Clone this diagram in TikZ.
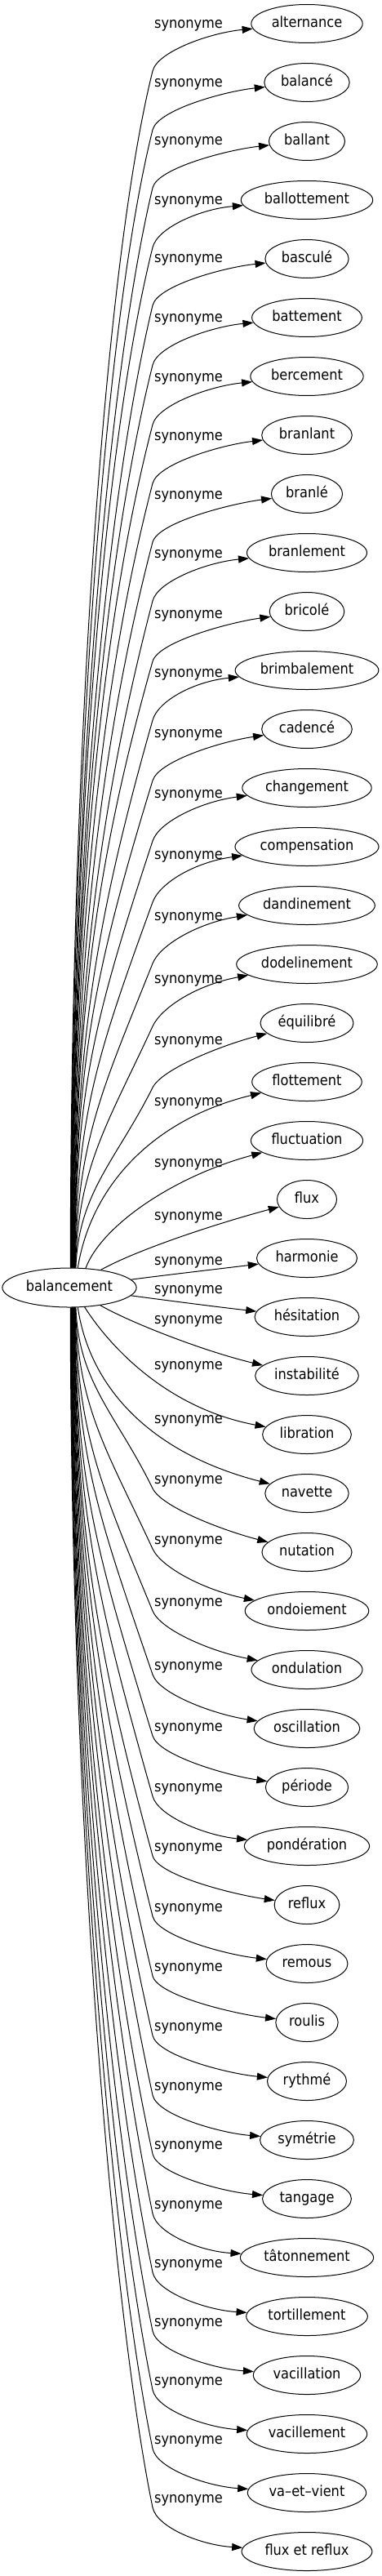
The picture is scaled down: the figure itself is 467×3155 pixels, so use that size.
\documentclass[tikz,border=0pt]{standalone}
\usepackage{fontspec}
\setmainfont{DejaVu Sans}[FakeStretch=0.9]
\usetikzlibrary{arrows.meta,shapes.geometric,calc}
\begin{document}
\begin{tikzpicture}[x=1pt,y=-1pt,
  word/.style={ellipse,draw,line width=1pt,minimum height=47pt,minimum width=73pt,
    inner xsep=5pt,inner ysep=0pt,text height=13pt,text depth=4pt,
    font=\fontsize{18}{20}\selectfont},
  lab/.style={inner sep=0pt,text height=13pt,text depth=4pt,font=\fontsize{18}{20}\selectfont},
  link/.style={line width=1pt,-{Triangle[length=13pt,width=9pt]}}]
\useasboundingbox (0,0) rectangle (467,3155);
% source node
\node[word,minimum width=160pt,minimum height=48pt] (bal) at (85,1577) {balancement};
% target nodes
\foreach \k/\w in {0/alternance,1/balancé,2/ballant,3/ballottement,4/basculé,5/battement,
  6/bercement,7/branlant,8/branlé,9/branlement,10/bricolé,11/brimbalement,12/cadencé,
  13/changement,14/compensation,15/dandinement,16/dodelinement,17/équilibré,18/flottement,
  19/fluctuation,20/flux,21/harmonie,22/hésitation,23/instabilité,24/libration,25/navette,
  26/nutation,27/ondoiement,28/ondulation,29/oscillation,30/période,31/pondération,
  32/reflux,33/remous,34/roulis,35/rythmé,36/symétrie,37/tangage,38/tâtonnement,
  39/tortillement,40/vacillation,41/vacillement,42/va–et–vient,43/flux et reflux}{
  \node[word] (n\k) at (376,{29+72*\k}) {\w};
}
% edge labels
\foreach \k/\ly in {0/30,1/102,2/173,3/246,4/317,5/390,6/463,7/535,8/607,9/679,10/753,
  11/825,12/899,13/973,14/1048,15/1123,16/1200,17/1275,18/1350,19/1425,20/1490,21/1545,
  22/1580,23/1617,24/1673,25/1739,26/1813,27/1887,28/1963,29/2041,30/2116,31/2190,
  32/2263,33/2337,34/2410,35/2483,36/2556,37/2628,38/2701,39/2773,40/2845,41/2917,
  42/2989,43/3061}{
  \node[lab] (l\k) at (231,\ly) {synonyme};
}
% upper far edges
\foreach \i/\ly in {0/30,1/102,2/173,3/246,4/317,5/390,6/463,7/535,8/607,9/679,10/753,
  11/825,12/899,13/973,14/1048,15/1123,16/1200,17/1275}{
  \pgfmathsetmacro\eyn{29+72*\i}
  \pgfmathsetmacro\eyw{\ly+57}
  \pgfmathsetmacro\edw{\eyw-\eyn}
  \pgfmathsetmacro\eth{14+0.6*(\edw-58)}
  \pgfmathsetmacro\esp{1553-\eyw}
  \pgfmathsetmacro\ecc{min(250,0.45*\esp)}
  \pgfmathsetmacro\edx{1+0.38*\i}
  \pgfmathtruncatemacro\eal{atan2(24*sqrt(1-(\edx/80)^2),\edx)}
  \pgfmathsetmacro\eqx{85+1.5*\edx}
  \pgfmathsetmacro\eqy{1553-0.42*\esp}
  \pgfmathsetmacro\eax{187-\ecc*sin(\eth)}
  \pgfmathsetmacro\eay{\eyw+\ecc*cos(\eth)}
  \pgfmathsetmacro\ebx{187+25*sin(\eth)}
  \pgfmathsetmacro\eby{\eyw-25*cos(\eth)}
  \pgfmathsetmacro\ero{11+0.8*(\edw-58)}
  \draw[link] (bal.\eal) .. controls (\eqx,\eqy) and (\eax,\eay) .. (187,\eyw)
     .. controls (\ebx,\eby) and ($(n\i.west)+(-49,\ero)$) .. (n\i);
}
% lower far edges
\foreach \k/\ly in {26/1813,27/1887,28/1963,29/2041,30/2116,31/2190,32/2263,33/2337,
  34/2410,35/2483,36/2556,37/2628,38/2701,39/2773,40/2845,41/2917,42/2989,43/3061}{
  \pgfmathsetmacro\eyn{29+72*\k}
  \pgfmathsetmacro\eyw{\ly+10}
  \pgfmathsetmacro\edw{\eyn-\eyw}
  \pgfmathsetmacro\eth{14+0.6*(\edw-58)}
  \pgfmathsetmacro\esp{\eyw-1601}
  \pgfmathsetmacro\ecc{min(250,0.45*\esp)}
  \pgfmathsetmacro\edx{1+0.38*(43-\k)}
  \pgfmathtruncatemacro\eal{-atan2(24*sqrt(1-(\edx/80)^2),\edx)}
  \pgfmathsetmacro\eqx{85+1.5*\edx}
  \pgfmathsetmacro\eqy{1601+0.42*\esp}
  \pgfmathsetmacro\eax{187-\ecc*sin(\eth)}
  \pgfmathsetmacro\eay{\eyw-\ecc*cos(\eth)}
  \pgfmathsetmacro\ebx{187+25*sin(\eth)}
  \pgfmathsetmacro\eby{\eyw+25*cos(\eth)}
  \pgfmathsetmacro\ero{-(11+0.8*(\edw-58))}
  \draw[link] (bal.\eal) .. controls (\eqx,\eqy) and (\eax,\eay) .. (187,\eyw)
     .. controls (\ebx,\eby) and ($(n\k.west)+(-49,\ero)$) .. (n\k);
}
% inner edges
\draw[link] (bal.67) .. controls (112,1450) and (190,1370) .. (n18);
\draw[link] (bal.50) .. controls (125,1500) and (215,1440) .. (n19);
\draw[link] (bal) .. controls (165,1532) and (260,1500) .. (n20);
\draw[link] (bal) .. controls (200,1562) and (260,1555) .. (n21);
\draw[link] (bal) .. controls (200,1592) and (260,1600) .. (n22);
\draw[link] (bal) .. controls (160,1620) and (250,1655) .. (n23);
\draw[link] (bal.-52) .. controls (135,1650) and (205,1725) .. (n24);
\draw[link] (bal.-67) .. controls (110,1700) and (185,1780) .. (n25);
\end{tikzpicture}
\end{document}
